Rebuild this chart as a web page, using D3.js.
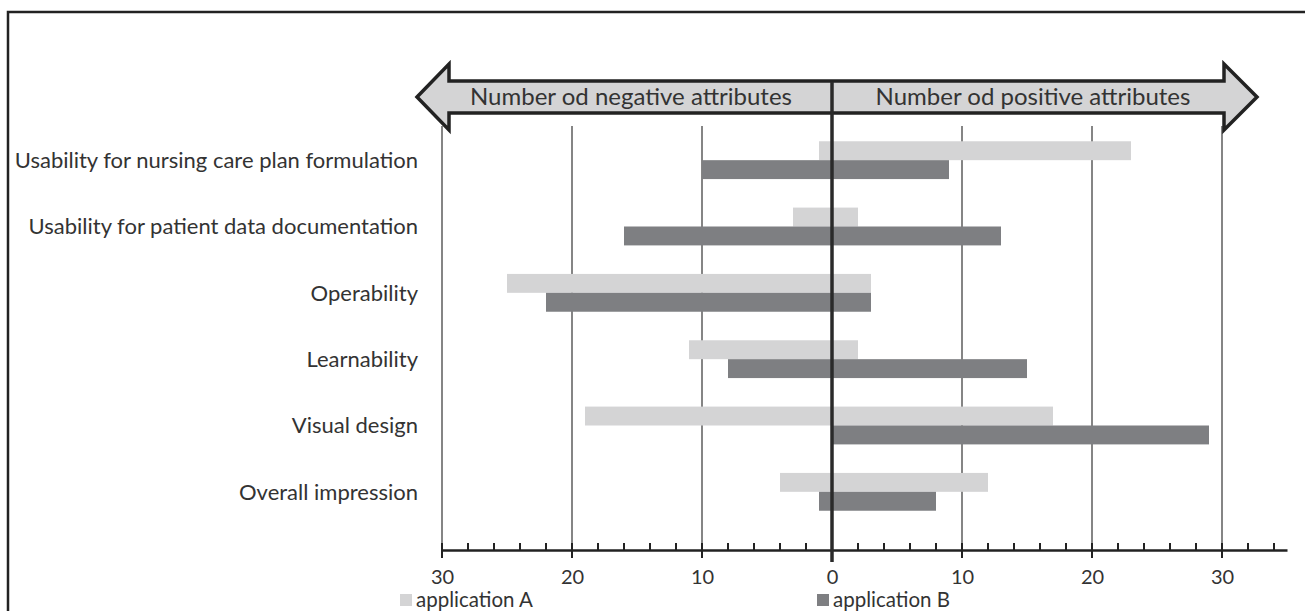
<!DOCTYPE html>
<html>
<head>
<meta charset="utf-8">
<script src="https://cdn.jsdelivr.net/npm/d3@7"></script>
<style>
  body { margin: 0; background: #fff; }
  text { font-family: Lato, "Open Sans", sans-serif; fill: #333; }
</style>
</head>
<body>
<div id="chart"></div>
<script>
// categories top to bottom
const categories = [
  'Usability for nursing care plan formulation',
  'Usability for patient data documentation',
  'Operability',
  'Learnability',
  'Visual design',
  'Overall impression'
];
const seriesNames = ['application A', 'application B'];
// negative attribute counts (drawn to the left) and positive ones (to the right)
const negA = [1, 3, 25, 11, 19, 4];
const posA = [23, 2, 3, 2, 17, 12];
const negB = [10, 16, 22, 8, 0, 1];
const posB = [9, 13, 3, 15, 29, 8];
const tickValues = [-30, -20, -10, 0, 10, 20, 30];
const headerLabels = ['Number od negative attributes', 'Number od positive attributes'];

const width = 1305, height = 611;
const colors = {A: '#d4d4d5', B: '#7e7f82'};

const svg = d3.select('#chart').append('svg')
  .attr('width', width)
  .attr('height', height);

// frame (left + top visible)
svg.append('rect')
  .attr('x', 8).attr('y', 12)
  .attr('width', 1310).attr('height', 620)
  .attr('fill', 'none')
  .attr('stroke', '#222')
  .attr('stroke-width', 2.5);

const x = d3.scaleLinear().domain([-30, 35]).range([442, 1287]);
const y = d3.scaleBand()
  .domain(categories)
  .range([127, 525])
  .paddingInner(0.43)
  .paddingOuter(0.215);
const ySub = d3.scaleBand().domain(['A', 'B']).range([0, y.bandwidth()]);

// flatten into segments
const segs = [];
categories.forEach((c, i) => {
  segs.push({cat: c, s: 'A', from: -negA[i], to: posA[i]});
  segs.push({cat: c, s: 'B', from: -negB[i], to: posB[i]});
});

// gridlines
svg.append('g').selectAll('line').data(tickValues.filter(d => d !== 0)).enter()
  .append('line')
  .attr('x1', d => x(d)).attr('x2', d => x(d))
  .attr('y1', 126).attr('y2', 550)
  .attr('stroke', '#858585')
  .attr('stroke-width', 2);

// bars
svg.append('g').selectAll('rect').data(segs).enter()
  .append('rect')
  .attr('x', d => x(d.from))
  .attr('width', d => x(d.to) - x(d.from))
  .attr('y', d => y(d.cat) + ySub(d.s))
  .attr('height', ySub.bandwidth())
  .attr('fill', d => colors[d.s]);

// category labels
svg.append('g').selectAll('text').data(categories).enter()
  .append('text')
  .attr('x', 418)
  .attr('y', d => y(d) + y.bandwidth() / 2)
  .attr('dy', '0.35em')
  .attr('text-anchor', 'end')
  .style('font-size', '22px')
  .text(d => d);

// header arrow
const ay = 97;
const arrow = d3.path();
arrow.moveTo(417, ay);
arrow.lineTo(449, 64);
arrow.lineTo(449, 81);
arrow.lineTo(1224, 81);
arrow.lineTo(1224, 64);
arrow.lineTo(1257, ay);
arrow.lineTo(1224, 130);
arrow.lineTo(1224, 113);
arrow.lineTo(449, 113);
arrow.lineTo(449, 130);
arrow.closePath();
svg.append('path')
  .attr('d', arrow.toString())
  .attr('fill', '#d4d4d5')
  .attr('stroke', '#222')
  .attr('stroke-width', 3.5)
  .attr('stroke-linejoin', 'miter');

svg.append('g').selectAll('text').data(headerLabels).enter()
  .append('text')
  .attr('x', (d, i) => i === 0 ? 631 : 1033)
  .attr('y', ay)
  .attr('dy', '0.35em')
  .attr('text-anchor', 'middle')
  .style('font-size', '24px')
  .text(d => d);

// bottom axis
const axisY = 550;
const axis = svg.append('g').attr('transform', `translate(0,${axisY})`);
axis.call(d3.axisBottom(x).tickValues(tickValues).tickSize(0).tickPadding(20)
  .tickFormat(d => Math.abs(d)));
axis.select('.domain').attr('stroke', '#222').attr('stroke-width', 2.5);
axis.selectAll('.tick text').style('font-size', '20px').attr('fill', '#333');

// minor ticks every 2
const minor = d3.range(-30, 36, 2).filter(d => d % 10 !== 0);
axis.append('g').selectAll('line').data(minor).enter()
  .append('line')
  .attr('x1', d => x(d)).attr('x2', d => x(d))
  .attr('y1', -7).attr('y2', 0)
  .attr('stroke', '#222').attr('stroke-width', 2);
// major ticks crossing the line
axis.append('g').selectAll('line').data(tickValues.filter(d => d !== 0)).enter()
  .append('line')
  .attr('x1', d => x(d)).attr('x2', d => x(d))
  .attr('y1', -7).attr('y2', 8)
  .attr('stroke', '#222').attr('stroke-width', 2);

// zero line
svg.append('line')
  .attr('x1', x(0)).attr('x2', x(0))
  .attr('y1', 82).attr('y2', 562)
  .attr('stroke', '#2a2a2a')
  .attr('stroke-width', 3.5);

// legend
const legend = svg.append('g').selectAll('g').data(seriesNames).enter()
  .append('g')
  .attr('transform', (d, i) => `translate(${i === 0 ? 400 : 817},600)`);
legend.append('rect')
  .attr('x', 0).attr('y', -6)
  .attr('width', 12).attr('height', 12)
  .attr('fill', (d, i) => i === 0 ? colors.A : colors.B);
legend.append('text')
  .attr('x', 16)
  .attr('dy', '0.35em')
  .style('font-size', '20.5px')
  .text(d => d);
</script>
</body>
</html>
